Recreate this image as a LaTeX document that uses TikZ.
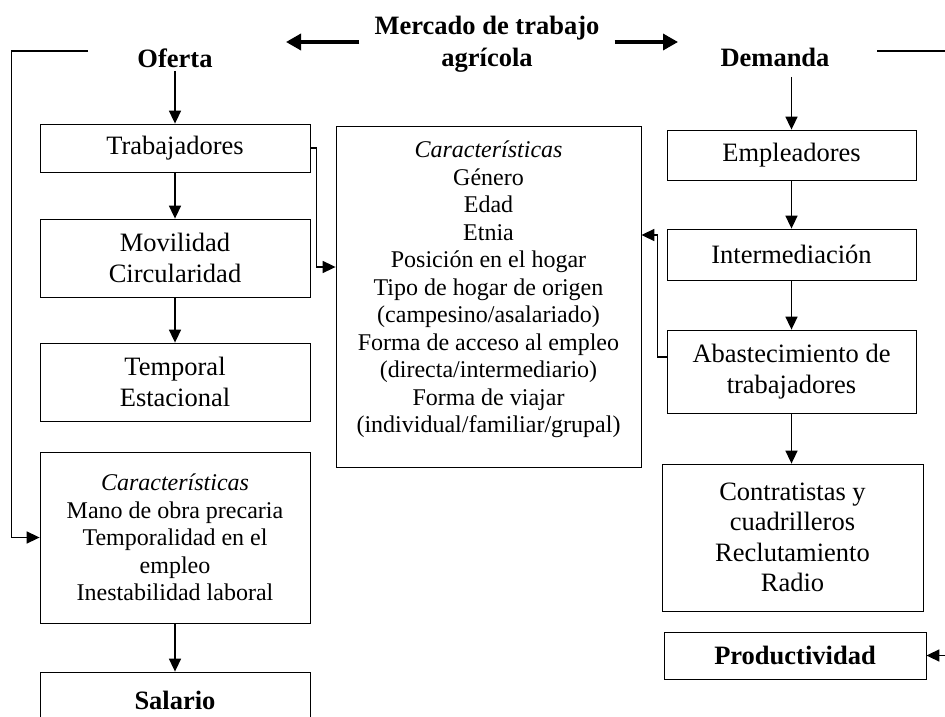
\documentclass[tikz,border=0pt]{standalone}
\usepackage{fontspec}
\setmainfont{Liberation Serif}
\usetikzlibrary{arrows.meta}

\begin{document}
\begin{tikzpicture}[x=1pt, y=-1pt,
    caja/.style={draw, line width=0.8pt, align=center, inner sep=0pt,
      font=\fontsize{26.5}{30.5}\selectfont},
    lista/.style={caja, font=\fontsize{24}{27.5}\selectfont},
    negrita/.style={font=\fontsize{26.5}{32}\selectfont\bfseries},
    titulo/.style={negrita, align=center},
    flecha/.style={line width=1.6pt, -{Triangle[length=13pt, width=12pt]}},
    gruesa/.style={line width=3.4pt, -{Triangle[length=15pt, width=16pt]}}]
    \def\anchoI{270pt} \def\anchoD{249pt}

    \useasboundingbox (0, 0) rectangle (945, 717);

    \node [titulo, inner xsep=15pt] (mercado) at (487, 44)
    {Mercado de trabajo\\agrícola};

    \node [titulo] (oferta) at (175, 58) {Oferta};

    \node [titulo] (demanda) at (775, 57) {Demanda};

    \coordinate (izq) at (286, 42);
    \coordinate (der) at (678, 42);

    \draw [gruesa] (mercado.west |- izq) -- (izq);
    \draw [gruesa] (mercado.east |- der) -- (der);

    % columna de la oferta
    \node [caja, minimum width=\anchoI, minimum height=48pt] (trab) at
    (175, 148) {Trabajadores};

    \node [caja, minimum width=\anchoI, minimum height=78pt] (movil) at
    (175, 258) {Movilidad\\Circularidad};

    \node [caja, minimum width=\anchoI, minimum height=78pt] (temp) at
    (175, 382) {Temporal\\Estacional};

    \node [lista, minimum width=\anchoI, minimum height=171pt] (caracI) at
    (175, 537.5) {\textit{Características}\\Mano de obra precaria\\
      Temporalidad en el\\empleo\\Inestabilidad laboral};

    \node [caja, negrita, minimum width=\anchoI, minimum height=56pt]
    (salario) at (175, 700) {Salario};

    % caracteristicas del centro
    \node [lista, minimum width=305pt, minimum height=341pt] (centro) at
    (488.5, 296.5) {\textit{Características}\\Género\\Edad\\Etnia\\
      Posición en el hogar\\Tipo de hogar de origen\\
      (campesino/asalariado)\\Forma de acceso al empleo\\
      (directa/intermediario)\\Forma de viajar\\
      (individual/familiar/grupal)\\[-8pt]};

    % columna de la demanda
    \node [caja, minimum width=\anchoD, minimum height=50pt] (emp) at
    (791.5, 155) {Empleadores};

    \node [caja, minimum width=\anchoD, minimum height=51pt] (inter) at
    (791.5, 254.5) {Intermediación};

    \node [caja, minimum width=\anchoD, minimum height=83pt] (abast) at
    (791.5, 371.5) {Abastecimiento de\\trabajadores};

    \node [caja, minimum width=261pt, minimum height=147pt] (contr) at
    (792.5, 537.5) {Contratistas y\\cuadrilleros\\Reclutamiento\\Radio};

    \node [caja, negrita, minimum width=262pt, minimum height=47pt] (prod)
    at (795, 655.5) {Productividad};

    \draw [flecha] (oferta.south) -- (trab.north);
    \draw [flecha] (trab.south) -- (movil.north);
    \draw [flecha] (movil.south) -- (temp.north);
    \draw [flecha] (caracI.south) -- (salario.north);

    \draw [flecha, shorten <=7pt] (emp.north |- demanda.south) -- (emp.north);
    \draw [flecha] (emp.south) -- (inter.north);
    \draw [flecha] (inter.south) -- (abast.north);
    \draw [flecha] (abast.south) -- (abast.south |- contr.north);

    \draw [flecha] (trab.east) -- ++(6, 0) |- ([yshift=29.5pt]centro.west);
    \draw [flecha] ([yshift=14.5pt]abast.west) -- ++(-9, 0) |-
    ([yshift=61.5pt]centro.east);

    % lazos exteriores
    \coordinate (lazoO) at (88, 51);
    \coordinate (lazoD) at (877, 51);

    \draw [flecha] (lazoO) -| ([xshift=-28pt]caracI.west) -- (caracI.west);
    \draw [flecha] (lazoD) -| ([xshift=40pt]prod.east) -- (prod.east);

  \end{tikzpicture}
\end{document}
